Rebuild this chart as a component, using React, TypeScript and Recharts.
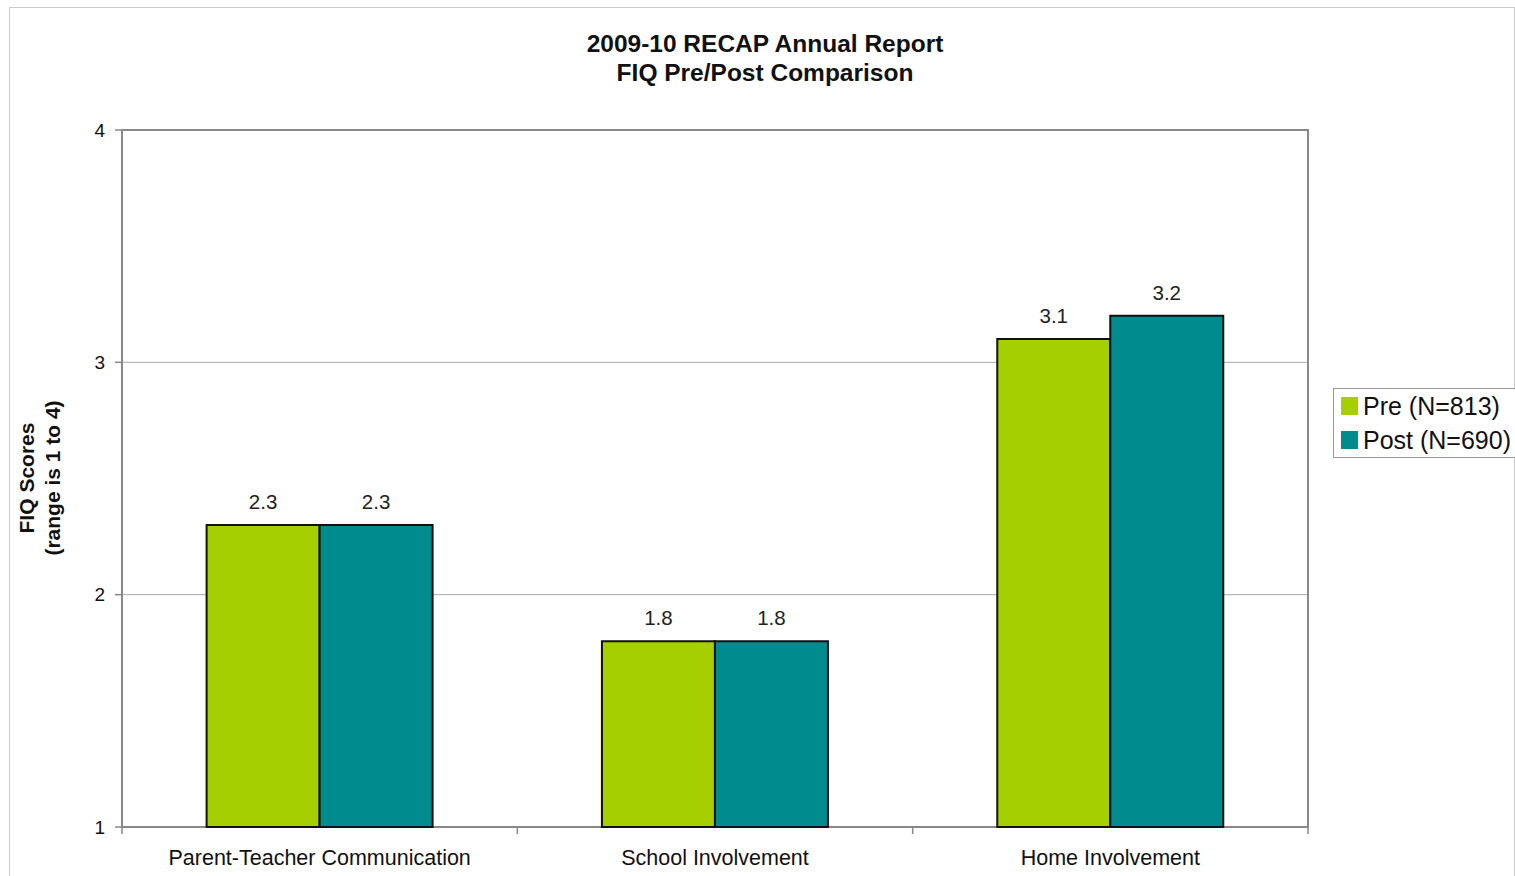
import {
  BarChart,
  Bar,
  XAxis,
  YAxis,
  CartesianGrid,
  ReferenceArea,
  LabelList,
  Legend,
} from 'recharts';

const categories = ['Parent-Teacher Communication', 'School Involvement', 'Home Involvement'];
const preScores = [2.3, 1.8, 3.1];
const postScores = [2.3, 1.8, 3.2];
const yTicks = [1, 2, 3, 4];
const seriesNames = ['Pre (N=813)', 'Post (N=690)'];

const data = categories.map((category, i) => ({
  category,
  pre: preScores[i],
  post: postScores[i],
}));

const W = 1515;
const H = 876;
const PLOT_LEFT = 122;
const PLOT_RIGHT = 1308;
const PLOT_TOP = 130;
const PLOT_BOTTOM = 827;
const BAND = (PLOT_RIGHT - PLOT_LEFT) / categories.length;
const FONT = '"Liberation Sans", Arial, sans-serif';

const PRE_COLOR = '#a6cf00';
const POST_COLOR = '#008b8f';

function CategoryTick(props: any) {
  const { x, index, payload } = props;
  const edge = x + BAND / 2;
  return (
    <g>
      {index === 0 && (
        <line x1={x - BAND / 2} x2={x - BAND / 2} y1={PLOT_BOTTOM} y2={PLOT_BOTTOM + 7} stroke="#888" strokeWidth={1.5} />
      )}
      <line x1={edge} x2={edge} y1={PLOT_BOTTOM} y2={PLOT_BOTTOM + 7} stroke="#888" strokeWidth={1.5} />
      <text x={x} y={PLOT_BOTTOM + 38} textAnchor="middle" fontSize={21.5} fontFamily={FONT} fill="#111">
        {payload.value}
      </text>
    </g>
  );
}

function LegendBox(props: any) {
  const items = [...(props.payload || [])].sort(
    (a: any, b: any) => seriesNames.indexOf(a.value) - seriesNames.indexOf(b.value)
  );
  return (
    <div
      style={{
        border: '1px solid #999',
        background: '#fff',
        width: 190,
        padding: '0 0 0 7px',
        fontFamily: FONT,
        fontSize: 25,
        color: '#111',
      }}
    >
      {items.map((p: any) => (
        <div key={p.value} style={{ display: 'flex', alignItems: 'center', height: 34 }}>
          <span style={{ width: 17, height: 18, background: p.color, marginRight: 5, display: 'inline-block' }} />
          <span>{p.value}</span>
        </div>
      ))}
    </div>
  );
}

export default function App() {
  return (
    <div style={{ position: 'absolute', left: 0, top: 0, width: W, height: H, overflow: 'hidden', background: '#fff' }}>
      <div
        style={{
          position: 'absolute',
          left: 9,
          top: 7,
          width: 1504,
          height: 900,
          border: '1px solid #ccc',
        }}
      />
      <div
        style={{
          position: 'absolute',
          left: 415,
          top: 29,
          width: 700,
          textAlign: 'center',
          fontFamily: FONT,
          fontWeight: 'bold',
          fontSize: 24.5,
          lineHeight: '29px',
          color: '#111',
        }}
      >
        2009-10 RECAP Annual Report
        <br />
        FIQ Pre/Post Comparison
      </div>
      <div
        style={{
          position: 'absolute',
          left: 40 - 150,
          top: 478 - 26,
          width: 300,
          height: 52,
          transform: 'rotate(-90deg)',
          textAlign: 'center',
          fontFamily: FONT,
          fontWeight: 'bold',
          fontSize: 21,
          lineHeight: '26px',
          color: '#111',
        }}
      >
        FIQ Scores
        <br />
        (range is 1 to 4)
      </div>
      <div style={{ position: 'absolute', left: 0, top: 0 }}>
        <BarChart
          width={W}
          height={H}
          data={data}
          margin={{ top: PLOT_TOP, right: W - PLOT_RIGHT, bottom: H - PLOT_BOTTOM - 30, left: 0 }}
          barCategoryGap="21.4%"
          barGap={0}
        >
          <CartesianGrid vertical={false} stroke="#aaa" strokeWidth={1} />
          <XAxis
            dataKey="category"
            height={30}
            axisLine={false}
            tickLine={false}
            tick={<CategoryTick />}
            interval={0}
          />
          <YAxis
            width={PLOT_LEFT}
            domain={[1, 4]}
            ticks={yTicks}
            axisLine={false}
            tickLine={{ stroke: '#888', strokeWidth: 1.5 }}
            tickSize={7}
            tickMargin={10}
            tick={{ fontSize: 19, fill: '#111', fontFamily: FONT }}
          />
          <ReferenceArea y1={1} y2={4} fill="none" stroke="#888" strokeWidth={2} ifOverflow="visible" />
          <Legend
            align="center"
            verticalAlign="middle"
            content={<LegendBox />}
            wrapperStyle={{ left: 1333, top: 388, width: 'auto' }}
          />
          <Bar dataKey="pre" name={seriesNames[0]} fill={PRE_COLOR} stroke="#111" strokeWidth={2} isAnimationActive={false}>
            <LabelList dataKey="pre" position="top" offset={16} style={{ fontSize: 20.5, fill: '#222', fontFamily: FONT }} />
          </Bar>
          <Bar dataKey="post" name={seriesNames[1]} fill={POST_COLOR} stroke="#111" strokeWidth={2} isAnimationActive={false}>
            <LabelList dataKey="post" position="top" offset={16} style={{ fontSize: 20.5, fill: '#222', fontFamily: FONT }} />
          </Bar>
        </BarChart>
      </div>
    </div>
  );
}
